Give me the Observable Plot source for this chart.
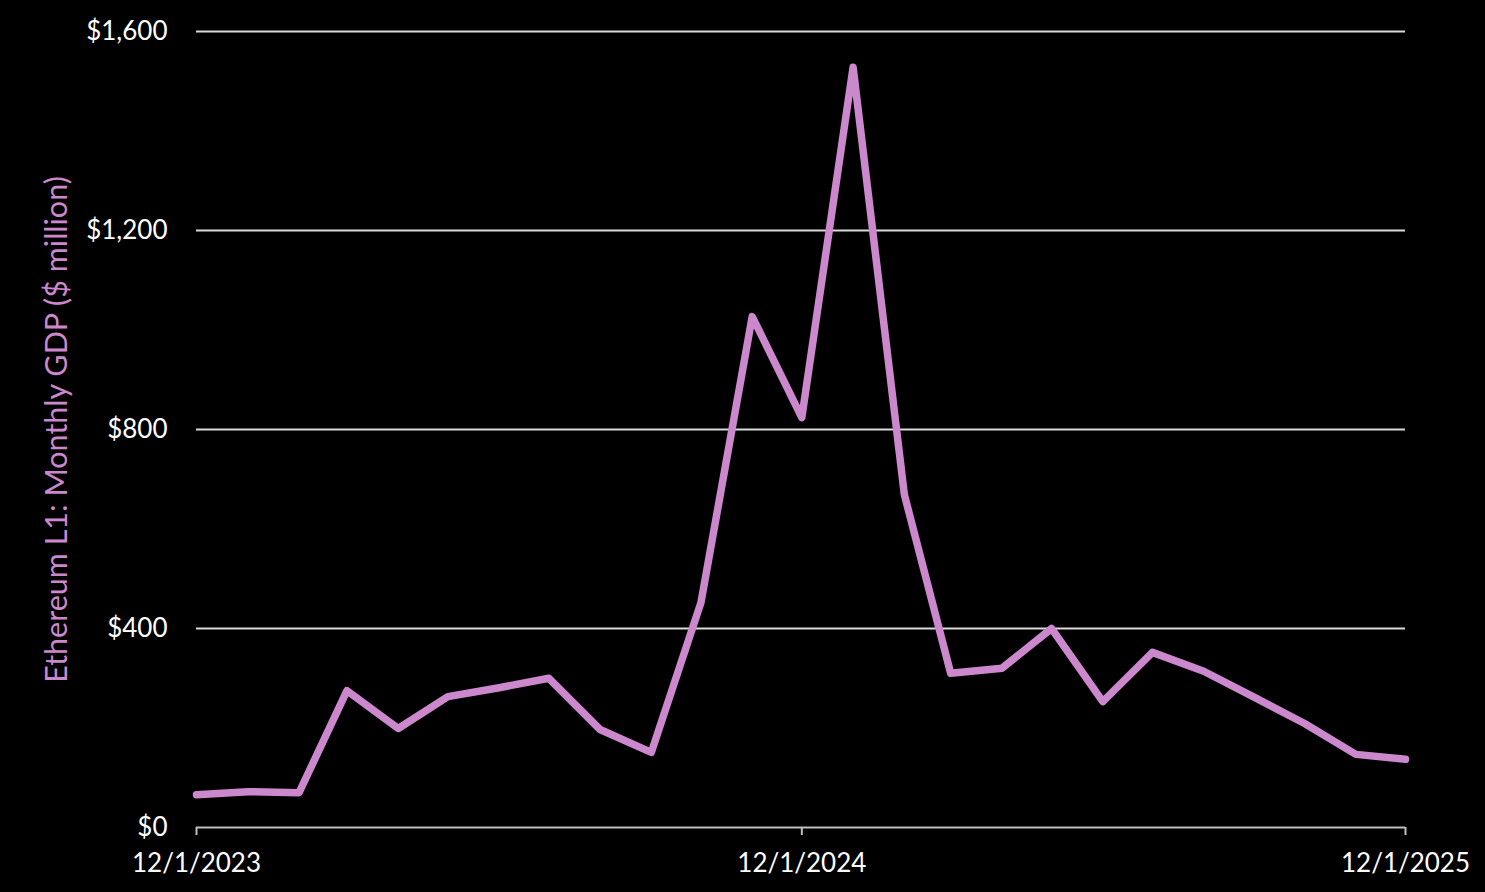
<!DOCTYPE html>
<html>
<head>
<meta charset="utf-8">
<script src="https://cdn.jsdelivr.net/npm/d3@7"></script>
<script src="https://cdn.jsdelivr.net/npm/@observablehq/plot@0.6"></script>
<style>
  html, body { margin: 0; padding: 0; background: #000; }
  #chart { width: 1485px; height: 892px; }
</style>
</head>
<body>
<div id="chart"></div>
<script>
const months = [
  "2023-12-01","2024-01-01","2024-02-01","2024-03-01","2024-04-01","2024-05-01",
  "2024-06-01","2024-07-01","2024-08-01","2024-09-01","2024-10-01","2024-11-01",
  "2024-12-01","2025-01-01","2025-02-01","2025-03-01","2025-04-01","2025-05-01",
  "2025-06-01","2025-07-01","2025-08-01","2025-09-01","2025-10-01","2025-11-01",
  "2025-12-01"
];
const gdpMillions = [
  66, 72, 70, 275, 199, 263,
  281, 300, 197, 151, 452, 1027,
  824, 1528, 669, 310, 320, 400,
  253, 352, 314, 261, 209, 147,
  137
];
const xTicks = ["2023-12-01", "2024-12-01", "2025-12-01"];
const yTicks = [0, 400, 800, 1200, 1600];
const yLabel = "Ethereum L1: Monthly GDP ($ million)";

const data = months.map((m, i) => ({date: new Date(m + "T00:00:00Z"), value: gdpMillions[i]}));
const fmtDate = d => `${d.getUTCMonth() + 1}/${d.getUTCDate()}/${d.getUTCFullYear()}`;
const fmtY = d => "$" + d3.format(",")(d);

const chart = Plot.plot({
  width: 1485,
  height: 892,
  marginLeft: 196,
  marginRight: 80,
  marginTop: 31,
  marginBottom: 65,
  style: {background: "#000", color: "#fff", fontFamily: "Lato, 'Open Sans', sans-serif", fontSize: "26px"},
  x: {type: "utc", domain: [new Date("2023-12-01T00:00:00Z"), new Date("2025-12-01T00:00:00Z")]},
  y: {domain: [0, 1600]},
  marks: [
    Plot.gridY(yTicks.filter(d => d > 0), {stroke: "#d9d9d9", strokeOpacity: 1, strokeWidth: 2}),
    Plot.ruleY([0], {stroke: "#bfbfbf", strokeWidth: 2}),
    Plot.axisX(xTicks.map(t => new Date(t + "T00:00:00Z")), {
      tickFormat: fmtDate, tickSize: 8, tickPadding: 18, stroke: "#bfbfbf", strokeWidth: 2,
      fill: "#fff", fontSize: 26, label: null
    }),
    Plot.axisY(yTicks, {
      tickFormat: fmtY, tickSize: 0, tickPadding: 29, fill: "#fff", fontSize: 26, label: null
    }),
    Plot.text([yLabel], {
      frameAnchor: "left", text: d => d, rotate: -90, dx: -139,
      fill: "#cc88cc", fontSize: 30.5, textAnchor: "middle", lineAnchor: "middle"
    }),
    Plot.line(data, {x: "date", y: "value", stroke: "#cc88cc", strokeWidth: 7.5, strokeLinejoin: "round"})
  ]
});
document.getElementById("chart").appendChild(chart);
</script>
</body>
</html>
